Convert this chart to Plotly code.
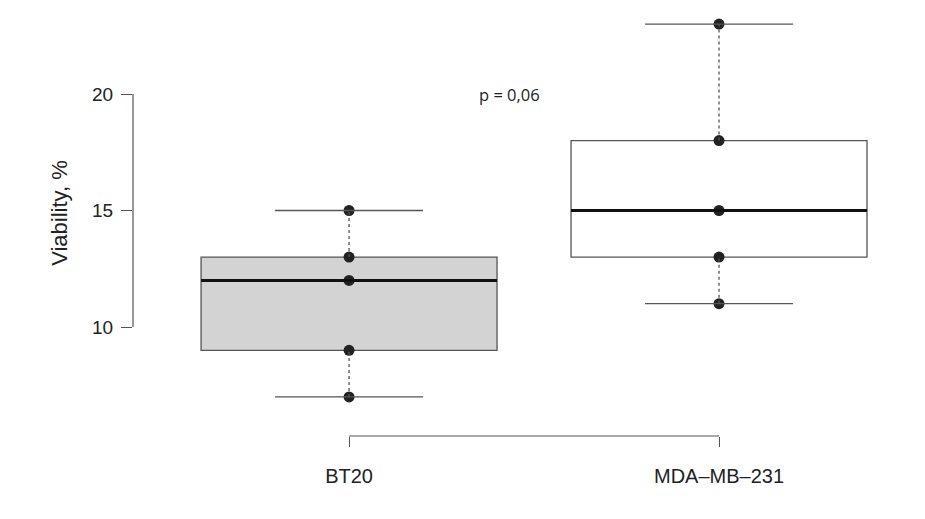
import plotly.graph_objects as go
import numpy as np

categories = ["BT20", "MDA\u2013MB\u2013231"]
bt20_values = [7, 9, 12, 13, 15]
mda_values = [11, 13, 15, 18, 23]
series = [bt20_values, mda_values]
box_fills = ["#d3d3d3", "#ffffff"]
y_ticks = [10, 15, 20]
p_label = "p = 0,06"
y_title = "Viability, %"

def hinges(v):
    v = sorted(v)
    n = len(v)
    med = float(np.median(v))
    lo = v[: (n + 1) // 2]
    hi = v[n // 2:]
    return v[0], float(np.median(lo)), med, float(np.median(hi)), v[-1]

xs = [1, 2]
fig = go.Figure()
shapes = []
line_col = "#555555"
half_box = 0.4
half_cap = 0.2
for x, vals, fill in zip(xs, series, box_fills):
    mn, q1, med, q3, mx = hinges(vals)
    shapes.append(dict(type="line", xref="x", yref="y", x0=x, x1=x, y0=mn, y1=q1,
                       line=dict(color=line_col, width=1.3, dash="3px,3px")))
    shapes.append(dict(type="line", xref="x", yref="y", x0=x, x1=x, y0=q3, y1=mx,
                       line=dict(color=line_col, width=1.3, dash="3px,3px")))
    shapes.append(dict(type="line", xref="x", yref="y", x0=x - half_cap, x1=x + half_cap, y0=mn, y1=mn,
                       line=dict(color=line_col, width=1.3)))
    shapes.append(dict(type="line", xref="x", yref="y", x0=x - half_cap, x1=x + half_cap, y0=mx, y1=mx,
                       line=dict(color=line_col, width=1.3)))
    shapes.append(dict(type="rect", xref="x", yref="y", x0=x - half_box, x1=x + half_box, y0=q1, y1=q3,
                       fillcolor=fill, line=dict(color=line_col, width=1.3), layer="below"))
    shapes.append(dict(type="line", xref="x", yref="y", x0=x - half_box, x1=x + half_box, y0=med, y1=med,
                       line=dict(color="#111111", width=3)))

shapes.append(dict(type="line", xref="paper", yref="y", x0=0, x1=0, y0=y_ticks[0], y1=y_ticks[-1],
                   line=dict(color=line_col, width=1.2)))
shapes.append(dict(type="line", xref="x", yref="paper", x0=xs[0], x1=xs[-1], y0=0, y1=0,
                   line=dict(color=line_col, width=1.2)))

for x, vals in zip(xs, series):
    fig.add_trace(go.Scatter(x=[x] * len(vals), y=vals, mode="markers",
                             marker=dict(color="#222222", size=11), showlegend=False, hoverinfo="y"))

fig.add_annotation(x=1.435, y=20, xref="x", yref="y", text=p_label, showarrow=False,
                   font=dict(family="Open Sans", size=16.5, color="#222222"))
fig.add_annotation(x=0, y=14.9, xref="paper", yref="y", text=y_title, showarrow=False,
                   textangle=-90, xanchor="center", yanchor="middle", xshift=-73,
                   font=dict(size=22, color="#222222"))

fig.update_layout(
    width=925, height=519,
    paper_bgcolor="white", plot_bgcolor="white",
    margin=dict(l=125, r=29, t=2, b=91),
    shapes=shapes,
    font=dict(family="Liberation Sans, Arial", color="#222222"),
    xaxis=dict(range=[0.416, 2.5], tickvals=xs, ticktext=categories, showgrid=False, zeroline=False,
               showline=False, ticks="outside", ticklen=10, tickcolor=line_col, tickwidth=1.2,
               tickfont=dict(size=20), ticklabelstandoff=12),
    yaxis=dict(range=[5.322, 23.605], tickvals=y_ticks, showgrid=False, zeroline=False,
               showline=False, ticks="outside", ticklen=11, tickcolor=line_col, tickwidth=1.2,
               tickfont=dict(size=19), ticklabelstandoff=4),
)
fig.write_html("out.html")
